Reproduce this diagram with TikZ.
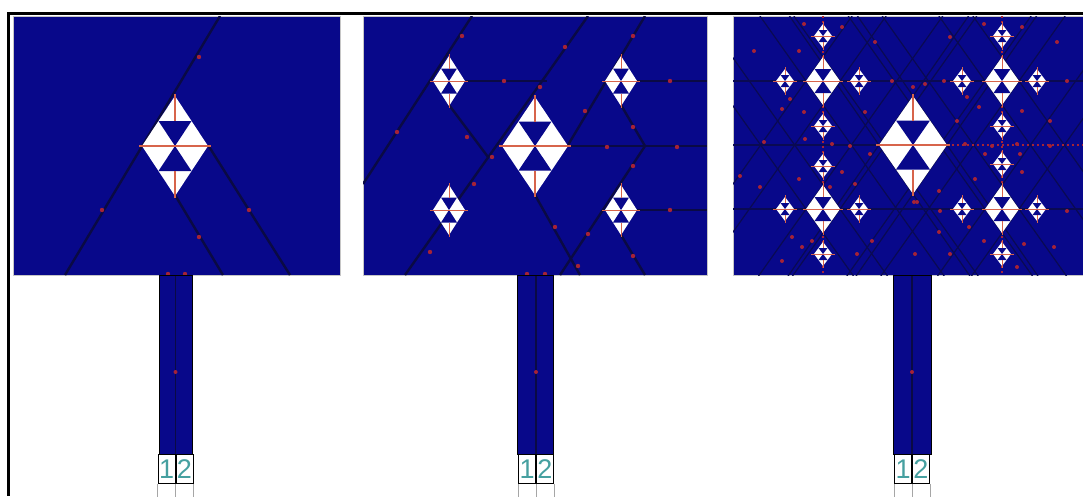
\documentclass[tikz,border=0pt]{standalone}
\usepackage{fontspec}
\setmainfont{Liberation Sans}
\definecolor{plava}{RGB}{8,8,138}
\definecolor{tamna}{RGB}{10,10,68}
\definecolor{crvena}{RGB}{215,100,75}
\definecolor{tacka}{RGB}{165,35,55}
\definecolor{tirkiz}{RGB}{70,160,160}
\tikzset{
  panel/.style={fill=plava,draw=gray!45,line width=0.6pt},
  stabljika/.style={fill=plava,draw=black,line width=0.6pt},
  linija/.style={draw=tamna,line width=2.4pt},
  tanka/.style={draw=tamna!80!plava,line width=1.2pt},
  osa/.style={draw=crvena},
  lanac/.style={draw=tacka,line width=1.2pt,dash pattern=on 2pt off 3pt},
  oznaka/.style={draw=black,fill=white,text=tirkiz,minimum width=17pt,minimum height=29pt,
                 inner sep=0pt,line width=0.9pt,font=\fontsize{27}{27}\selectfont},
  siva/.style={draw=gray!70,line width=0.6pt},
  okvir/.style={draw=black,line width=3pt},
}
% romb od cetiri bela trougla (centar x, centar y, pola sirine, pola visine)
\newcommand{\sierp}[4]{%
  \fill[white] (#1,{#2-#4}) -- ({#1-#3},#2) -- (#1,{#2+#4}) -- ({#1+#3},#2) -- cycle;
  \fill[plava] ({#1-#3/2},{#2-#4/2}) -- ({#1+#3/2},{#2-#4/2}) -- (#1,#2) -- cycle;
  \fill[plava] ({#1-#3/2},{#2+#4/2}) -- ({#1+#3/2},{#2+#4/2}) -- (#1,#2) -- cycle;
  \draw[osa,line width=#3/26*1pt] ({#1-#3-3},#2) -- ({#1+#3+3},#2)
       (#1,{#2-#4-2}) -- (#1,{#2-#4/2}) (#1,{#2+#4/2}) -- (#1,{#2+#4+2});
}
% produzene ivice romba
\newcommand{\resetka}[4]{%
  \draw[tanka] ({#1+12*#3},{#2-#4-12*#4}) -- ({#1-12*#3},{#2-#4+12*#4})
               ({#1-12*#3},{#2-#4-12*#4}) -- ({#1+12*#3},{#2-#4+12*#4})
               ({#1-12*#3},{#2+#4-12*#4}) -- ({#1+12*#3},{#2+#4+12*#4})
               ({#1+12*#3},{#2+#4-12*#4}) -- ({#1-12*#3},{#2+#4+12*#4});
}

\begin{document}
\begin{tikzpicture}[x=1pt,y=-1pt]
  \useasboundingbox (0,0) rectangle (1083,496);
  \fill[white] (0,0) rectangle (1083,496);

  % ---------- PANELI ----------
  \foreach \xa/\xb in {13/340,363/707,733/1090}
    \draw[panel] (\xa,16) rectangle (\xb,275);

  % ---------- PRVI KORAK ----------
  \begin{scope}
    \clip (13,16) rectangle (340,275);
    \draw[linija] (220,16) -- (65,275);
    \draw[linija] (208,145) -- (290,275);
    \draw[linija] (175,195) -- (223,275);
    \foreach \x/\y in {199/57,102/210,249/210,199/237,168/274,185/274}
      \fill[tacka] (\x,\y) circle (2.2pt);
  \end{scope}
  \sierp{175}{146}{33}{50}

  % ---------- DRUGI KORAK ----------
  \begin{scope}
    \clip (363,16) rectangle (707,275);
    \foreach \a/\b/\c/\d in {472/16/363/184,588/16/405/275,645/16/568/145,
        449/105/488/157,535/195/580/275,621/105/645/146,645/146/560/275,
        621/235/645/275,466/81/547/81,637/81/707/81,568/146/707/146,637/210/707/210}
      \draw[linija] (\a,\b) -- (\c,\d);
    \foreach \x/\y in {462/36,504/81,397/132,467/137,492/157,474/184,430/252,
        565/47,540/87,633/36,670/81,585/111,633/127,607/147,677/147,633/166,
        670/210,555/227,588/234,578/266,633/256,527/274,545/274}
      \fill[tacka] (\x,\y) circle (2.2pt);
  \end{scope}
  \sierp{535}{146}{33}{49}
  \foreach \x/\y in {449/81,621/81,449/210,621/210}
    {\sierp{\x}{\y}{16}{25}}

  % ---------- TRECI KORAK ----------
  \begin{scope}
    \clip (733,16) rectangle (1090,275);
    \foreach \x/\y in {823/81,1002/81,823/209,1002/209}
      {\resetka{\x}{\y}{17}{24}}
    \resetka{913}{145}{34}{49}
    \draw[tanka] (733,81) -- (1090,81) (733,209) -- (1090,209) (733,145) -- (878,145);
    \draw[lanac] (947,145) -- (1090,145) (823,16) -- (823,275) (1002,16) -- (1002,275);
    \foreach \x/\y in {754/51,804/24,842/27,875/42,892/81,799/51,790/99,804/112,
        782/109,865/112,764/142,805/139,832/144,850/146,870/154,740/176,760/187,
        799/179,842/172,855/184,830/187,792/237,812/241,802/247,857/254,872/241,
        782/261,950/37,984/24,1022/27,1057/42,925/84,944/81,1067/81,967/97,
        979/107,1022/111,1050/121,957/121,965/144,992/146,1017/144,1050/146,
        985/154,1020/154,975/179,939/191,1022/172,1067/211,940/211,969/227,
        984/241,1024/244,939/232,1054/247,950/254,915/254,1017/267,914/202,
        913/87,917/202}
      \fill[tacka] (\x,\y) circle (2pt);
  \end{scope}
  \sierp{913}{145}{34}{49}
  \foreach \x/\y in {823/81,1002/81,823/209,1002/209}
    {\sierp{\x}{\y}{17}{24}}
  \foreach \x/\y in {785/81,859/81,823/36,823/126,823/166,823/254,785/209,859/209,
      962/81,1037/81,1002/36,1002/126,1002/164,1002/254,962/209,1037/209}
    {\sierp{\x}{\y}{9}{12}}

  % ---------- STUBOVI I OZNAKE ----------
  \foreach \xl/\xm/\xd/\ime in {159/175.5/192/a,517/536/553/b,893/912/931/c}
  {
    \draw[stabljika] (\xl,275) rectangle (\xd,454);
    \draw[linija,line width=1.6pt] (\xm,276) -- (\xm,454);
    \fill[tacka] (\xm,372) circle (2pt);
    \node[oznaka,anchor=north east] (jedan\ime) at (\xm,454) {1};
    \node[oznaka,anchor=north west] (dva\ime) at (\xm,454) {2};
    \draw[siva] (jedan\ime.south west) -- ++(0,20)
                (jedan\ime.south east) -- ++(0,20)
                (dva\ime.south east) -- ++(0,20);
  }

  % ---------- OKVIR ----------
  \draw[okvir] (1083,13) -- (8,13) -- (8,496);
\end{tikzpicture}
\end{document}
